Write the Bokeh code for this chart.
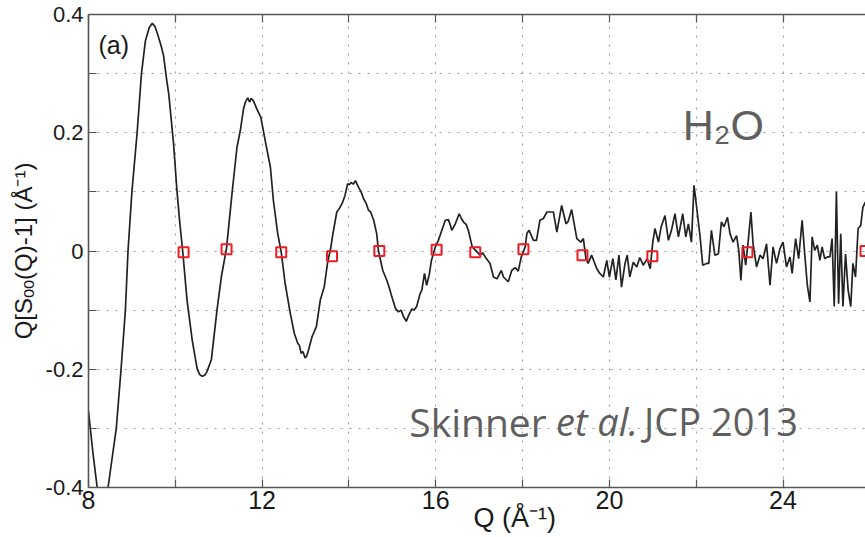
from bokeh.plotting import figure
from bokeh.models import FixedTicker, LinearAxis, Label, Range1d, CustomJSTickFormatter, Title
from bokeh.embed import file_html
from bokeh.resources import INLINE

# ---- data ----
q = [8.00, 8.10, 8.20, 8.32, 8.45, 8.64, 8.75, 8.85, 8.91, 9.00, 9.12, 9.22, 9.31, 9.40, 9.47,
     9.53, 9.60, 9.68, 9.73, 9.80, 9.85, 9.96, 10.04, 10.10, 10.17, 10.27, 10.39, 10.50, 10.56,
     10.62, 10.68, 10.73, 10.83, 10.96, 11.06, 11.18, 11.31, 11.42, 11.50, 11.57, 11.62, 11.67,
     11.71, 11.75, 11.80, 11.88, 11.97, 12.07, 12.19, 12.26, 12.36, 12.44, 12.53, 12.65, 12.74,
     12.82, 12.86, 12.90, 12.94, 12.99, 13.03, 13.07, 13.15, 13.25, 13.34, 13.43, 13.51, 13.58,
     13.63, 13.72, 13.78, 13.84, 13.91, 13.97, 14.01, 14.05, 14.10, 14.15, 14.22, 14.28, 14.34,
     14.40, 14.45, 14.50, 14.57, 14.64, 14.68, 14.78, 14.87, 14.93, 14.99, 15.07, 15.14, 15.20,
     15.25, 15.32, 15.38, 15.45, 15.50, 15.56, 15.64, 15.68, 15.74, 15.79, 15.85, 15.90, 15.99,
     16.06, 16.14, 16.22, 16.29, 16.33, 16.37, 16.45, 16.54, 16.59, 16.64, 16.70, 16.75, 16.84,
     16.92, 17.02, 17.08, 17.14, 17.25, 17.33, 17.41, 17.51, 17.56, 17.67, 17.75, 17.83, 17.90,
     17.97, 18.06, 18.10, 18.15, 18.25, 18.32, 18.40, 18.48, 18.56, 18.63, 18.71, 18.79, 18.90,
     19.00, 19.05, 19.13, 19.25, 19.34, 19.40, 19.46, 19.51, 19.59, 19.71, 19.78, 19.86, 19.94,
     20.00, 20.08, 20.15, 20.22, 20.28, 20.36, 20.41, 20.47, 20.55, 20.63, 20.70, 20.78, 20.87,
     20.94, 21.00, 21.05, 21.13, 21.19, 21.28, 21.36, 21.43, 21.51, 21.59, 21.69, 21.76, 21.82,
     21.89, 21.95, 22.01, 22.09, 22.15, 22.24, 22.29, 22.35, 22.43, 22.51, 22.58, 22.64, 22.72,
     22.78, 22.85, 22.93, 22.98, 23.03, 23.08, 23.14, 23.20, 23.26, 23.31, 23.39, 23.47, 23.54,
     23.62, 23.70, 23.77, 23.85, 23.93, 24.00, 24.08, 24.16, 24.21, 24.29, 24.36, 24.44, 24.50,
     24.56, 24.62, 24.67, 24.73, 24.79, 24.85, 24.90, 24.96, 25.02, 25.08, 25.13, 25.18, 25.23,
     25.28, 25.33, 25.38, 25.44, 25.50, 25.56, 25.61, 25.67, 25.73, 25.79, 25.84, 25.90]
s_oo = [-0.271, -0.340, -0.400, -0.440, -0.400, -0.300, -0.200, -0.100, 0.000, 0.100, 0.200, 0.300,
        0.355, 0.378, 0.385, 0.380, 0.365, 0.345, 0.330, 0.290, 0.265, 0.181, 0.100, 0.050, 0.000,
        -0.083, -0.151, -0.198, -0.209, -0.212, -0.210, -0.204, -0.184, -0.100, -0.044, 0.005,
        0.100, 0.175, 0.205, 0.240, 0.253, 0.259, 0.252, 0.258, 0.254, 0.240, 0.226, 0.187, 0.142,
        0.085, 0.029, -0.002, -0.055, -0.106, -0.139, -0.156, -0.160, -0.173, -0.170, -0.181,
        -0.177, -0.167, -0.145, -0.128, -0.083, -0.061, -0.019, 0.005, 0.029, 0.066, 0.072, 0.080,
        0.094, 0.114, 0.112, 0.116, 0.113, 0.119, 0.108, 0.100, 0.088, 0.080, 0.069, 0.066, 0.052,
        0.029, 0.000, -0.033, -0.049, -0.062, -0.078, -0.097, -0.103, -0.100, -0.110, -0.119,
        -0.108, -0.098, -0.100, -0.094, -0.072, -0.066, -0.038, -0.058, -0.040, -0.016, 0.007,
        0.018, 0.035, 0.052, 0.053, 0.045, 0.035, 0.046, 0.063, 0.055, 0.049, 0.045, 0.035, 0.007,
        0.001, -0.007, -0.003, -0.010, -0.021, -0.044, -0.047, -0.033, -0.044, -0.052, -0.033,
        -0.028, -0.034, -0.010, 0.007, 0.030, 0.035, 0.018, 0.018, 0.052, 0.055, 0.066, 0.066,
        0.066, 0.032, 0.077, 0.046, 0.050, 0.070, 0.021, 0.015, 0.021, -0.013, -0.021, -0.007,
        -0.030, -0.038, -0.044, -0.016, -0.044, -0.013, -0.049, -0.007, -0.061, -0.021, -0.007,
        -0.044, -0.019, -0.027, -0.011, -0.024, -0.013, -0.030, 0.015, 0.038, 0.015, 0.040, 0.060,
        0.018, 0.035, 0.063, 0.024, 0.063, 0.024, 0.046, 0.015, 0.111, 0.074, 0.024, -0.024,
        -0.021, -0.021, 0.035, -0.007, -0.005, 0.049, 0.041, 0.057, 0.029, 0.015, 0.026, 0.001,
        -0.050, 0.010, -0.024, 0.018, 0.066, 0.012, -0.027, -0.007, -0.013, 0.012, -0.058, 0.007,
        -0.021, 0.004, 0.015, -0.027, -0.010, -0.038, 0.021, -0.013, 0.052, -0.005, -0.058,
        -0.086, 0.024, 0.001, 0.010, -0.016, 0.007, -0.013, -0.010, -0.010, 0.021, -0.094, 0.100,
        -0.089, 0.029, -0.094, -0.005, -0.066, -0.094, -0.021, -0.044, 0.038, 0.043, 0.074, 0.083]

# zero-crossing markers (red squares)
zero_q = [10.19, 11.18, 12.44, 13.61, 14.70, 16.02, 16.91, 18.02, 19.38, 20.99, 23.18, 25.90]
zero_s = [-0.002, 0.003, -0.002, -0.009, 0.000, 0.002, -0.002, 0.003, -0.007, -0.009, -0.002, 0.000]

# ticks
x_grid_ticks = [8, 10, 12, 14, 16, 18, 20, 22, 24, 26]
x_label_ticks = [8, 12, 16, 20, 24]
x_minor_ticks = [10, 14, 18, 22, 26]
y_grid_ticks = [-0.4, -0.3, -0.2, -0.1, 0.0, 0.1, 0.2, 0.3, 0.4]
y_label_ticks = [-0.4, -0.2, 0.0, 0.2, 0.4]
y_label_texts = ["-0.4", "-0.2", "0", "0.2", "0.4"]
y_minor_ticks = [-0.3, -0.1, 0.1, 0.3]

AX = "#555555"
SANS = "Liberation Sans"

p = figure(width=865, height=537, x_range=Range1d(8, 25.9), y_range=Range1d(-0.4, 0.4),
           output_backend="svg", toolbar_location=None,
           min_border_left=88, min_border_top=14, min_border_right=0, min_border_bottom=50)
p.outline_line_color = None
p.background_fill_color = "white"

# grid
p.xgrid.ticker = FixedTicker(ticks=x_grid_ticks)
p.ygrid.ticker = FixedTicker(ticks=y_grid_ticks)
for g in (p.xgrid, p.ygrid):
    g.grid_line_color = "#9a9a9a"
    g.grid_line_dash = "2 7"
    g.grid_line_width = 1.1

xa = p.xaxis[0]
xa.ticker = FixedTicker(ticks=x_label_ticks, minor_ticks=x_minor_ticks)
ya = p.yaxis[0]
ya.ticker = FixedTicker(ticks=y_label_ticks, minor_ticks=y_minor_ticks)
ya.formatter = CustomJSTickFormatter(args=dict(t=y_label_ticks, l=y_label_texts), code="""
for (let i = 0; i < t.length; i++) { if (Math.abs(t[i] - tick) < 1e-9) return l[i]; }
return '';
""")
for a in (xa, ya):
    a.axis_line_color = AX
    a.axis_line_width = 1.6
    a.major_tick_line_color = AX
    a.minor_tick_line_color = AX
    a.major_tick_in = 8
    a.major_tick_out = 0
    a.minor_tick_in = 8
    a.minor_tick_out = 0
    a.major_tick_line_width = 1.2
    a.minor_tick_line_width = 1.2
    a.major_label_text_font = SANS
    a.major_label_text_color = "#1a1a1a"
    a.axis_label_text_font = SANS
    a.axis_label_text_font_style = "normal"
    a.axis_label_text_color = "#1a1a1a"
xa.major_label_text_font_size = "25px"
xa.major_label_standoff = 3

ya.major_label_text_font_size = "22px"
ya.major_label_standoff = 5
ya.axis_label = "Q[Sₒₒ(Q)-1] (Å⁻¹)"
ya.axis_label_text_font_size = "24px"
ya.axis_label_standoff = 6

top = LinearAxis(ticker=FixedTicker(ticks=[], minor_ticks=x_grid_ticks),
                 minor_tick_in=8, minor_tick_out=0, minor_tick_line_color=AX,
                 minor_tick_line_width=1.2, major_tick_line_color=None,
                 axis_line_color=AX, axis_line_width=1.6, major_label_standoff=0)
p.add_layout(top, "above")

# x-axis title, placed right of centre as in the reference
xtitle = Title(text="Q (Å⁻¹)", align="left", offset=385, vertical_align="middle",
               text_baseline="alphabetic", standoff=-20, text_font=SANS,
               text_font_size="27px", text_font_style="normal", text_color="#1a1a1a")
p.add_layout(xtitle, "below")

# data
p.line(q, s_oo, line_color="#222222", line_width=1.7)
p.scatter(zero_q, zero_s, marker="square", size=10, fill_color=None,
          line_color="#ee1c24", line_width=2)

# texts
p.add_layout(Label(x=8.23, y=0.3486, text="(a)", text_baseline="alphabetic",
                   text_font=SANS, text_font_size="25px", text_color="#1a1a1a"))
GREY = "#5f5f5f"
p.add_layout(Label(x=21.69, y=0.2137, text="H₂O", text_baseline="alphabetic",
                   text_font=SANS, text_font_size="43px", text_color=GREY))
p.add_layout(Label(x=15.39, y=-0.288, text="Skinner", text_baseline="alphabetic",
                   text_font="Open Sans", text_font_size="39px", text_color=GREY))
p.add_layout(Label(x=18.77, y=-0.288, text="et al.", text_baseline="alphabetic",
                   text_font="Open Sans", text_font_size="38px", text_font_style="italic",
                   text_color=GREY))
p.add_layout(Label(x=20.80, y=-0.288, text="JCP 2013", text_baseline="alphabetic",
                   text_font="Open Sans", text_font_size="38px", text_color=GREY))

open("out.html", "w").write(file_html(p, INLINE))
